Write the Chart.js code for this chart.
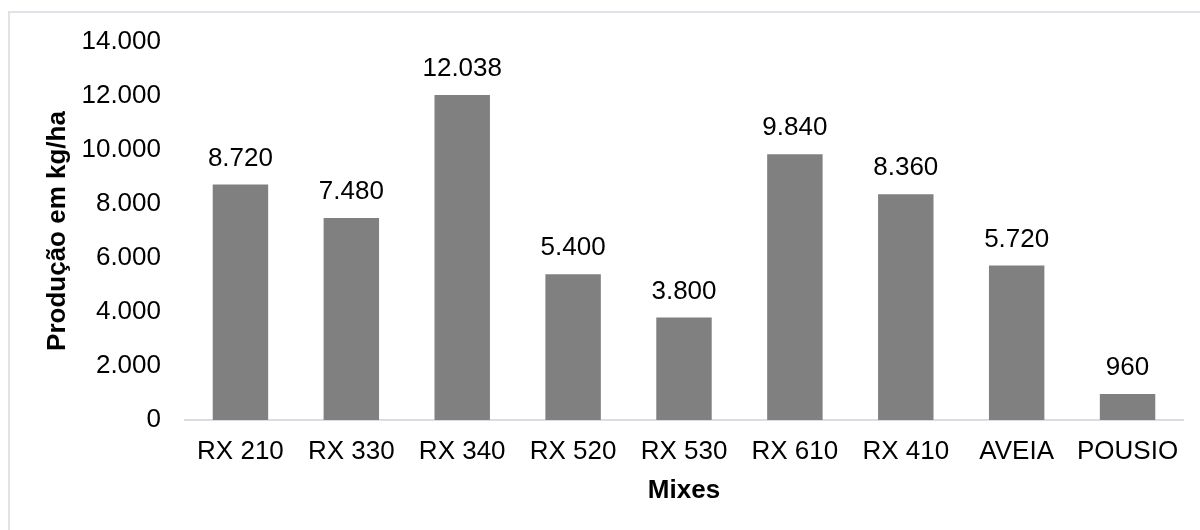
<!DOCTYPE html>
<html>
<head>
<meta charset="utf-8">
<title>Produção por mix</title>
<script src="https://cdn.jsdelivr.net/npm/chart.js@4.4.1/dist/chart.umd.min.js"></script>
<style>
  html, body { margin: 0; padding: 0; background: #ffffff; }
  #wrap { width: 1200px; height: 530px; }
</style>
</head>
<body>
<div id="wrap"><canvas id="chart" width="1200" height="530"></canvas></div>
<script>
// Categories and yields (kg/ha)
const categories = ['RX 210', 'RX 330', 'RX 340', 'RX 520', 'RX 530', 'RX 610', 'RX 410', 'AVEIA', 'POUSIO'];
const production = [8720, 7480, 12038, 5400, 3800, 9840, 8360, 5720, 960];
const yTickValues = [0, 2000, 4000, 6000, 8000, 10000, 12000, 14000];

const FONT = "'Liberation Sans', Arial, Helvetica, sans-serif";

// Thousands separated with a dot, as in pt-BR
function fmt(n) {
  const s = String(Math.round(n));
  return s.replace(/\B(?=(\d{3})+(?!\d))/g, '.');
}

// Light frame around the chart
const framePlugin = {
  id: 'frame',
  beforeDraw(chart) {
    const ctx = chart.ctx;
    ctx.save();
    ctx.strokeStyle = '#dfe3e8';
    ctx.lineWidth = 2;
    ctx.beginPath();
    ctx.moveTo(9, 600);
    ctx.lineTo(9, 12);
    ctx.lineTo(1250, 12);
    ctx.stroke();
    ctx.restore();
  }
};

// Value labels above each bar
const valueLabels = {
  id: 'valueLabels',
  afterDatasetsDraw(chart) {
    const ctx = chart.ctx;
    const meta = chart.getDatasetMeta(0);
    ctx.save();
    ctx.font = '26px ' + FONT;
    ctx.fillStyle = '#000000';
    ctx.textAlign = 'center';
    ctx.textBaseline = 'middle';
    meta.data.forEach((bar, i) => {
      ctx.fillText(fmt(production[i]), bar.x, bar.y - 26);
    });
    ctx.restore();
  }
};

new Chart(document.getElementById('chart'), {
  type: 'bar',
  data: {
    labels: categories,
    datasets: [{
      data: production,
      backgroundColor: '#808080',
      borderWidth: 0,
      barPercentage: 0.5,
      categoryPercentage: 1.0
    }]
  },
  options: {
    responsive: false,
    animation: false,
    devicePixelRatio: 1,
    layout: { padding: { left: 0, top: 42, right: 17, bottom: 0 } },
    plugins: {
      legend: { display: false },
      tooltip: { enabled: false }
    },
    scales: {
      x: {
        grid: { display: false, drawTicks: false },
        border: { display: true, color: '#d9dde3', width: 2 },
        ticks: {
          color: '#000000',
          font: { family: FONT, size: 26 },
          padding: 16,
          maxRotation: 0,
          autoSkip: false
        },
        title: {
          display: true,
          text: 'Mixes',
          color: '#000000',
          font: { family: FONT, size: 26, weight: 'bold' },
          padding: { top: 0, bottom: 24 }
        },
        afterFit(scale) { scale.height = 110; }
      },
      y: {
        min: 0,
        max: 14000,
        grid: { display: false, drawTicks: false },
        border: { display: false },
        afterBuildTicks(scale) {
          scale.ticks = yTickValues.map(v => ({ value: v }));
        },
        ticks: {
          color: '#000000',
          font: { family: FONT, size: 26 },
          padding: 24,
          callback: (v) => fmt(v)
        },
        title: {
          display: true,
          text: 'Produção em kg/ha',
          color: '#000000',
          font: { family: FONT, size: 26, weight: 'bold' },
          padding: { top: 42, bottom: 0 }
        },
        afterFit(scale) { scale.width = 185; }
      }
    }
  },
  plugins: [framePlugin, valueLabels]
});
</script>
</body>
</html>
